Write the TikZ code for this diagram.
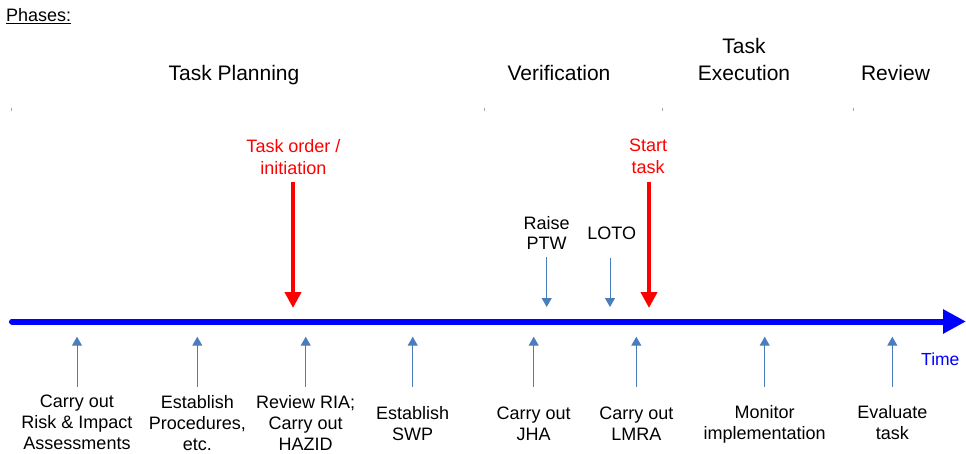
\documentclass[tikz,border=0pt]{standalone}
\usepackage{fontspec}
\setmainfont{Liberation Sans}
\usetikzlibrary{arrows.meta}
\definecolor{stepblue}{HTML}{4A7EBB}
\definecolor{timeblue}{RGB}{0,0,255}
\definecolor{eventred}{RGB}{255,0,0}
\begin{document}
\begin{tikzpicture}[x=1pt,y=-1pt,
  phase/.style={font=\fontsize{21}{27}\selectfont, align=center, inner sep=0pt, anchor=north},
  lbl/.style={font=\fontsize{18}{21}\selectfont, align=center, inner sep=0pt, anchor=north},
  eventlbl/.style={font=\fontsize{18}{22}\selectfont, align=center, inner sep=0pt, anchor=north, text=eventred},
  marklbl/.style={font=\fontsize{18}{20}\selectfont, align=center, inner sep=0pt, anchor=north},
  timeline/.style={draw=timeblue, line width=6pt, line cap=round, -{Triangle[length=23pt,width=23pt]}},
  eventarrow/.style={draw=eventred, line width=4pt, -{Triangle[length=16pt,width=16pt]}},
  steparrow/.style={draw=stepblue, line width=1pt, -{Triangle[length=9pt,width=10pt]}},
  divider/.style={draw=black!35, line width=0.8pt}]
\useasboundingbox (0,0) rectangle (966,454);

% heading
\node[font=\fontsize{18}{21}\selectfont, inner sep=0pt, anchor=north west] (heading) at (6,8) {\underline{Phases:}};

% phase titles
\node[phase] (planning) at (234,65) {Task Planning};
\node[phase] (verification) at (559,65) {Verification};
\node[phase] (execution) at (744,38) {Task\\Execution};
\node[phase] (review) at (895.5,65) {Review};

% phase boundaries
\foreach \x/\n in {11.5/d0, 484/d1, 662/d2, 853/d3} {
  \coordinate (\n a) at (\x,108);
  \coordinate (\n b) at (\x,111.5);
  \draw[divider] (\n a) -- (\n b);
}

% time axis
\coordinate (axisstart) at (12,321.5);
\coordinate (axisend) at (966,321.5);
\draw[timeline] (axisstart) -- (axisend);
\node[font=\fontsize{17.5}{21}\selectfont, text=timeblue, inner sep=0pt, anchor=north west] (time) at (921,353) {Time};

% key events
\node[eventlbl] (order) at (293.5,139) {Task order /\\initiation};
\node[eventlbl] (start) at (648,139) {Start\\task};
\coordinate (orderfrom) at (293,182);
\coordinate (orderto) at (293,308);
\coordinate (startfrom) at (649,182);
\coordinate (startto) at (649,308);
\draw[eventarrow] (orderfrom) -- (orderto);
\draw[eventarrow] (startfrom) -- (startto);

% permits and isolation
\node[marklbl] (ptw) at (546.7,216.7) {Raise\\PTW};
\node[marklbl] (loto) at (611.7,227) {LOTO};
\coordinate (ptwfrom) at (546.7,257);
\coordinate (ptwto) at (546.7,307);
\coordinate (lotofrom) at (610,258);
\coordinate (lototo) at (610,307);
\draw[steparrow] (ptwfrom) -- (ptwto);
\draw[steparrow] (lotofrom) -- (lototo);

% activities below the axis
\foreach \x/\y/\n/\t in {
  77/395/s1/{Carry out\\Risk \& Impact\\Assessments},
  197.3/395/s2/{Establish\\Procedures,\\etc.},
  305.7/395/s3/{Review RIA;\\Carry out\\HAZID},
  412.7/406/s4/{Establish\\SWP},
  533.7/407/s5/{Carry out\\JHA},
  636.3/407/s6/{Carry out\\LMRA},
  764.7/405/s7/{Monitor\\implementation},
  892.3/405/s8/{Evaluate\\task}} {
  \node[lbl] (\n) at (\x,\y) {\t};
  \coordinate (\n from) at (\x,387);
  \coordinate (\n to) at (\x,336.7);
  \draw[steparrow] (\n from) -- (\n to);
}
\end{tikzpicture}
\end{document}
